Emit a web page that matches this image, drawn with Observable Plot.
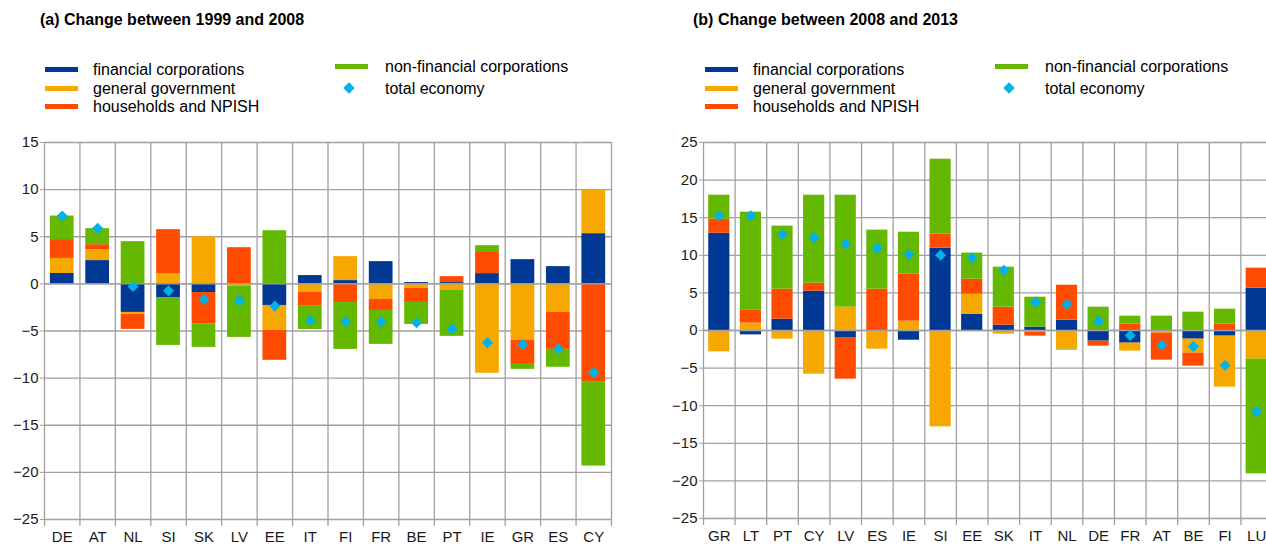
<!DOCTYPE html>
<html>
<head>
<meta charset="utf-8">
<script src="https://cdn.jsdelivr.net/npm/d3@7"></script>
<script src="https://cdn.jsdelivr.net/npm/@observablehq/plot@0.6"></script>
<style>
  html, body { margin: 0; padding: 0; background: #fff; }
  body { width: 1266px; height: 546px; overflow: hidden; position: relative; font-family: "Liberation Sans", Arial, sans-serif; color: #000; }
  .title { position: absolute; font-weight: bold; font-size: 16px; line-height: 1; white-space: nowrap; }
  .leg { position: absolute; font-size: 16px; line-height: 1; white-space: nowrap; }
  .sw { position: absolute; width: 33px; height: 5px; }
  .dia { position: absolute; width: 8px; height: 8px; background: #00b1ea; transform: rotate(45deg); }
  .chart { position: absolute; top: 120px; width: 640px; height: 426px; }
  .chart svg { overflow: visible; max-width: none !important; }
</style>
</head>
<body>
<div id="root"></div>
<script>
// ---- data ----
const seriesNames = ["financial corporations", "general government", "households and NPISH", "non-financial corporations"];
const totalName = "total economy";
const seriesColors = ["#003894", "#f7a800", "#ff4b00", "#65b800"];
const totalColor = "#00b1ea";

const titleA = "(a) Change between 1999 and 2008";
const countriesA = ["DE","AT","NL","SI","SK","LV","EE","IT","FI","FR","BE","PT","IE","GR","ES","CY"];
const finA = [1.1, 2.47, -3.03, -1.45, -0.92, 0, -2.29, 0.88, 0.35, 2.36, 0.14, 0.14, 1.09, 2.57, 1.83, 5.33];
const govA = [1.6, 1.16, -0.21, 1.1, 5.0, -0.28, -2.65, -0.92, 2.54, -1.66, -0.49, -0.7, -9.49, -6.0, -3.03, 4.66];
const hhA  = [2.0, 0.53, -1.59, 4.65, -3.35, 3.84, -3.17, -1.38, -1.98, -1.16, -1.48, 0.63, 2.33, -2.54, -3.92, -10.44];
const nfcA = [2.5, 1.7, 4.48, -5.08, -2.47, -5.4, 5.64, -2.54, -4.97, -3.6, -2.33, -4.87, 0.63, -0.53, -1.9, -8.89];
const totA = [7.2, 5.9, -0.28, -0.74, -1.66, -1.8, -2.36, -3.88, -4.02, -4.02, -4.13, -4.8, -6.24, -6.42, -6.88, -9.42];
const yDomainA = [-25, 15];
const yTicksA = [-25, -20, -15, -10, -5, 0, 5, 10, 15];

const titleB = "(b) Change between 2008 and 2013";
const countriesB = ["GR","LT","PT","CY","LV","ES","IE","SI","EE","SK","IT","NL","DE","FR","AT","BE","FI","LU"];
const finB = [12.94, -0.58, 1.51, 5.23, -1.02, 0, -1.29, 10.95, 2.17, 0.71, 0.44, 1.37, -1.42, -1.68, -0.13, -1.15, -0.75, 5.63];
const govB = [-2.84, 0.98, -1.15, -5.81, 3.1, -2.48, 1.24, -12.81, 2.66, -0.49, -0.22, -2.48, 0, -1.06, -0.22, -1.86, -6.78, -3.81];
const hhB  = [1.86, 1.77, 3.99, 1.06, -5.45, 5.5, 6.29, 1.86, 2.0, 2.39, -0.53, 4.65, -0.66, 0.84, -3.59, -1.73, 0.84, 2.66];
const nfcB = [3.19, 12.99, 8.38, 11.7, 14.89, 7.85, 5.54, 9.97, 3.46, 5.32, 3.99, -0.13, 3.1, 1.06, 1.91, 2.44, 2.0, -15.25];
const totB = [15.25, 15.25, 12.77, 12.37, 11.52, 10.95, 10.1, 10.02, 9.66, 8.02, 3.77, 3.5, 1.24, -0.66, -1.95, -2.13, -4.65, -10.77];
const yDomainB = [-25, 25];
const yTicksB = [-25, -20, -15, -10, -5, 0, 5, 10, 15, 20, 25];

const gridColor = "#a0a0a0";

function panel(cats, fin, gov, hh, nfc, tot, yDomain, yTicks, lay) {
  const rows = [];
  cats.forEach((c, i) => {
    [fin, gov, hh, nfc].forEach((arr, k) => rows.push({country: c, series: seriesNames[k], value: arr[i]}));
  });
  const totals = cats.map((c, i) => ({country: c, value: tot[i]}));
  const bw = (lay.width - lay.ml - lay.mr) / cats.length;
  const inset = bw * 0.165;
  return Plot.plot({
    width: lay.width, height: lay.height,
    marginLeft: lay.ml, marginRight: lay.mr, marginTop: lay.mt, marginBottom: lay.mb,
    style: {fontFamily: "Liberation Sans, Arial, sans-serif", fontSize: "15px", color: "#1a1a1a", background: "transparent"},
    x: {domain: cats, padding: 0, round: false, label: null},
    y: {domain: yDomain, label: null},
    color: {domain: seriesNames, range: seriesColors},
    marks: [
      Plot.gridY(yTicks, {stroke: gridColor, strokeOpacity: 1, strokeWidth: 1.3}),
      Plot.ruleX(cats, {x: d => d, dx: -bw / 2, stroke: gridColor, strokeWidth: 1.3, insetBottom: -7}),
      Plot.ruleX([cats[cats.length - 1]], {x: d => d, dx: bw / 2, stroke: gridColor, strokeWidth: 1.3, insetBottom: -7}),
      Plot.barY(rows, Plot.stackY({order: seriesNames}, {x: "country", y: "value", fill: "series", insetLeft: inset, insetRight: inset})),
      Plot.ruleY([0], {stroke: gridColor, strokeWidth: 1.3}),
      Plot.dot(totals, {x: "country", y: "value", symbol: "diamond2", r: 5, fill: totalColor, stroke: null}),
      Plot.axisY(yTicks, {tickSize: 4, tickPadding: 2, stroke: gridColor, fontSize: 15, fill: "#1a1a1a"}),
      Plot.axisX({tickSize: 0, tickPadding: 12, fontSize: 15, fill: "#1a1a1a"})
    ]
  });
}

const root = document.getElementById("root");
function add(html) { root.insertAdjacentHTML("beforeend", html); }

function legend(x0, x1) {
  add(`<div class="sw" style="left:${x0}px;top:67px;background:${seriesColors[0]}"></div>`);
  add(`<div class="leg" style="left:${x0 + 48}px;top:62px">${seriesNames[0]}</div>`);
  add(`<div class="sw" style="left:${x0}px;top:86px;background:${seriesColors[1]}"></div>`);
  add(`<div class="leg" style="left:${x0 + 48}px;top:81px">${seriesNames[1]}</div>`);
  add(`<div class="sw" style="left:${x0}px;top:104px;background:${seriesColors[2]}"></div>`);
  add(`<div class="leg" style="left:${x0 + 48}px;top:99px">${seriesNames[2]}</div>`);
  add(`<div class="sw" style="left:${x1}px;top:64px;background:${seriesColors[3]}"></div>`);
  add(`<div class="leg" style="left:${x1 + 50}px;top:59px">${seriesNames[3]}</div>`);
  add(`<div class="dia" style="left:${x1 + 10}px;top:84px"></div>`);
  add(`<div class="leg" style="left:${x1 + 50}px;top:81px">${totalName}</div>`);
}

add(`<div class="title" style="left:40px;top:12px">${titleA}</div>`);
add(`<div class="title" style="left:693px;top:12px">${titleB}</div>`);
legend(45, 335);
legend(705, 995);

const a = panel(countriesA, finA, govA, hhA, nfcA, totA, yDomainA, yTicksA,
  {width: 640, height: 426, ml: 44, mr: 29, mt: 22, mb: 27});
const divA = document.createElement("div");
divA.className = "chart"; divA.style.left = "0px"; divA.appendChild(a); root.appendChild(divA);

const b = panel(countriesB, finB, govB, hhB, nfcB, totB, yDomainB, yTicksB,
  {width: 640, height: 426, ml: 63, mr: 8, mt: 22, mb: 28});
const divB = document.createElement("div");
divB.className = "chart"; divB.style.left = "640px"; divB.appendChild(b); root.appendChild(divB);
</script>
</body>
</html>
